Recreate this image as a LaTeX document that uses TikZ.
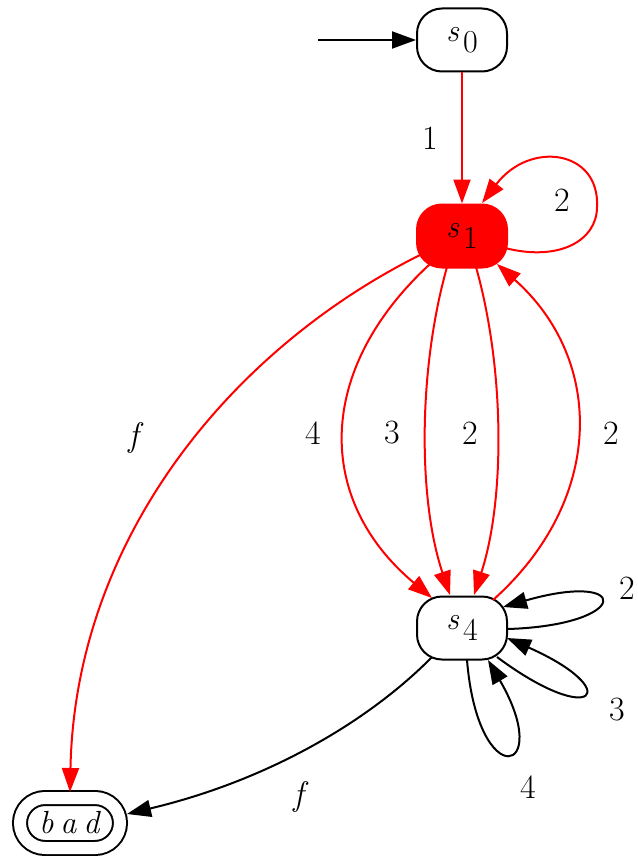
\documentclass[tikz,border=0pt]{standalone}
\usepackage{fontspec}
\usetikzlibrary{arrows.meta,calc}
\newcommand\stlab[1]{\textit{s}\hspace{4pt}\raisebox{-0.36em}{#1}}
\begin{document}
\begin{tikzpicture}[x=1pt,y=-1pt,
  state/.style={draw,line width=2pt,rectangle,rounded corners=25pt,minimum width=90pt,minimum height=63pt,inner sep=0pt,font=\fontsize{32}{38}\selectfont},
  lbl/.style={font=\fontsize{34}{40}\selectfont,inner sep=0pt},
  edge/.style={line width=2pt,-{Triangle[length=24pt,width=17pt]}},
  redge/.style={edge,red}]
\useasboundingbox (0,0) rectangle (637,856);
\node[state] (s0) at (462,40) {\stlab{0}};
\node[state,fill=red,draw=red] (s1) at (462,236) {\stlab{1}};
\node[state] (s4) at (462,628) {\stlab{4}};
\node[draw,line width=2pt,double,double distance=12pt,rectangle,rounded corners=25pt,minimum width=100pt,minimum height=50pt,inner sep=0pt,font=\fontsize{32}{38}\selectfont] (bad) at (70,823) {\textit{b\hspace{7pt}a\hspace{7pt}d}};
\coordinate (init) at (318,40);
% edges
\draw[edge] (init) -- (s0.west);
\draw[redge] (s0.south) -- (s1.north);
\draw[redge] ($(s1)+(43,12)$) .. controls ($(s1)+(98,26)$) and ($(s1)+(135,4)$) .. ($(s1)+(135,-29)$) .. controls ($(s1)+(138,-86)$) and ($(s1)+(68,-96)$) .. ($(s1)+(20,-33)$);
\draw[redge] ($(s1)+(-42,19)$) .. controls (230,350) and (75,540) .. ($(bad)+(0,-31)$);
\draw[redge] ($(s1)+(-32,28)$) .. controls (315,370) and (315,500) .. ($(s4)+(-30,-30)$);
\draw[redge] ($(s1)+(-15,31)$) .. controls (418,370) and (418,500) .. ($(s4)+(-12,-33)$);
\draw[redge] ($(s1)+(14,31)$) .. controls (505,370) and (505,500) .. ($(s4)+(12,-33)$);
\draw[redge] ($(s4)+(31,-28)$) .. controls (605,500) and (605,360) .. ($(s1)+(35,28)$);
\draw[edge] ($(s4)+(46,1)$) .. controls (632,625) and (632,570) .. ($(s4)+(41,-21)$);
\draw[edge] ($(s4)+(35,29)$) .. controls (595,730) and (625,690) .. ($(s4)+(45,10)$);
\draw[edge] ($(s4)+(5,32)$) .. controls (478,795) and (555,775) .. ($(s4)+(26,32)$);
\draw[edge] ($(s4)+(-30,29)$) .. controls (370,720) and (270,780) .. ($(bad)+(57,-9)$);
% labels
\node[lbl] (l1) at (430,138) {1};
\node[lbl] (l2) at (562,200) {2};
\node[lbl] (lf1) at (136,438) {\textit{f}};
\node[lbl] (l4a) at (313,433) {4};
\node[lbl] (l3a) at (392,433) {3};
\node[lbl] (l2a) at (470,433) {2};
\node[lbl] (l2b) at (611,433) {2};
\node[lbl] (l2c) at (627,588) {2};
\node[lbl] (l3b) at (617,710) {3};
\node[lbl] (l4b) at (528,787) {4};
\node[lbl] (lf2) at (301,797) {\textit{f}};
\end{tikzpicture}
\end{document}
